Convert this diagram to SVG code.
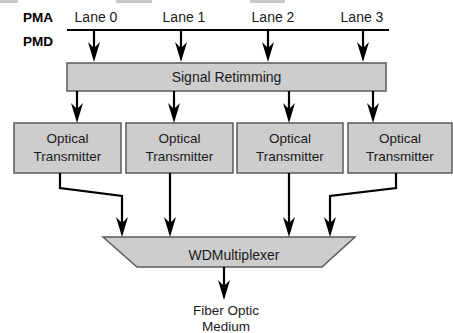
<svg xmlns="http://www.w3.org/2000/svg" width="453" height="333" viewBox="0 0 453 333">
  <style>
    .bg { fill: #ffffff; }
    .tab { fill: #c8c8c8; }
    .box { fill: #cdcdcd; stroke: #5a5a5a; stroke-width: 1.5; }
    .wire { fill: none; stroke: #000; stroke-width: 2.2; }
    .lbl { font-family: "Liberation Sans", Arial, sans-serif; font-size: 14px; fill: #1a1a1a; text-anchor: middle; }
    .sub { font-family: "Liberation Sans", Arial, sans-serif; font-size: 13.5px; font-weight: bold; fill: #000; }
    .txt { font-family: "Liberation Sans", Arial, sans-serif; font-size: 13.5px; fill: #1a1a1a; text-anchor: middle; }
  </style>
  <defs>
    <marker id="arrow" markerUnits="userSpaceOnUse" viewBox="-1 -7 22 14" markerWidth="22" markerHeight="14" refX="10" refY="0" orient="auto">
      <path d="M0,-6 L20,0 L0,6 L6,0 Z" fill="#000"/>
    </marker>
  </defs>

  <rect class="bg" x="0" y="0" width="453" height="333"/>
  <rect class="tab" x="0" y="0" width="18" height="3"/>
  <rect class="tab" x="116" y="0" width="36" height="3"/>
  <rect class="tab" x="250" y="0" width="35" height="3"/>

  <!-- sublayer labels -->
  <text class="sub" x="23" y="22">PMA</text>
  <text class="sub" x="23" y="46">PMD</text>

  <!-- lane labels -->
  <g id="lanes">
    <text class="lbl" x="96" y="22">Lane 0</text>
    <text class="lbl" x="184" y="22">Lane 1</text>
    <text class="lbl" x="273" y="22">Lane 2</text>
    <text class="lbl" x="362" y="22">Lane 3</text>
  </g>

  <g id="retiming">
    <rect class="box" x="67" y="63" width="319" height="28"/>
    <text class="lbl" x="226.5" y="82">Signal Retimming</text>
  </g>

  <g id="tx0">
    <rect class="box" x="14" y="123" width="107" height="50"/>
    <text class="txt" x="67.5" y="143">Optical</text>
    <text class="txt" x="67.5" y="161">Transmitter</text>
  </g>
  <g id="tx1">
    <rect class="box" x="126" y="123" width="107" height="50"/>
    <text class="txt" x="179.5" y="143">Optical</text>
    <text class="txt" x="179.5" y="161">Transmitter</text>
  </g>
  <g id="tx2">
    <rect class="box" x="237" y="123" width="106" height="50"/>
    <text class="txt" x="290" y="143">Optical</text>
    <text class="txt" x="290" y="161">Transmitter</text>
  </g>
  <g id="tx3">
    <rect class="box" x="348" y="123" width="104" height="50"/>
    <text class="txt" x="400" y="143">Optical</text>
    <text class="txt" x="400" y="161">Transmitter</text>
  </g>

  <g id="mux">
    <polygon class="box" points="103,237 355,237 322,267 137,267"/>
    <text class="lbl" x="234" y="260">WDMultiplexer</text>
  </g>

  <g id="medium">
    <text class="txt" x="226" y="315">Fiber Optic</text>
    <text class="txt" x="226" y="331">Medium</text>
  </g>

  <g id="connectors">
    <!-- PMA/PMD boundary -->
    <line class="wire" x1="67" y1="30" x2="389" y2="30"/>
    <!-- lanes into retiming -->
    <line class="wire" x1="94" y1="30" x2="94" y2="52" marker-end="url(#arrow)"/>
    <line class="wire" x1="181" y1="30" x2="181" y2="52" marker-end="url(#arrow)"/>
    <line class="wire" x1="268" y1="30" x2="268" y2="52" marker-end="url(#arrow)"/>
    <line class="wire" x1="363" y1="30" x2="363" y2="52" marker-end="url(#arrow)"/>
    <!-- retiming to transmitters -->
    <line class="wire" x1="77" y1="91" x2="77" y2="113" marker-end="url(#arrow)"/>
    <line class="wire" x1="174" y1="91" x2="174" y2="113" marker-end="url(#arrow)"/>
    <line class="wire" x1="289" y1="91" x2="289" y2="113" marker-end="url(#arrow)"/>
    <line class="wire" x1="373" y1="91" x2="373" y2="113" marker-end="url(#arrow)"/>
    <!-- transmitters to multiplexer -->
    <polyline class="wire" points="60,173 60,188 122,196 122,227" marker-end="url(#arrow)"/>
    <line class="wire" x1="170" y1="173" x2="170" y2="227" marker-end="url(#arrow)"/>
    <line class="wire" x1="289" y1="173" x2="289" y2="227" marker-end="url(#arrow)"/>
    <polyline class="wire" points="396,173 396,188 330,196 330,227" marker-end="url(#arrow)"/>
    <!-- multiplexer to medium -->
    <line class="wire" x1="224" y1="267" x2="224" y2="290" marker-end="url(#arrow)"/>
  </g>
</svg>
